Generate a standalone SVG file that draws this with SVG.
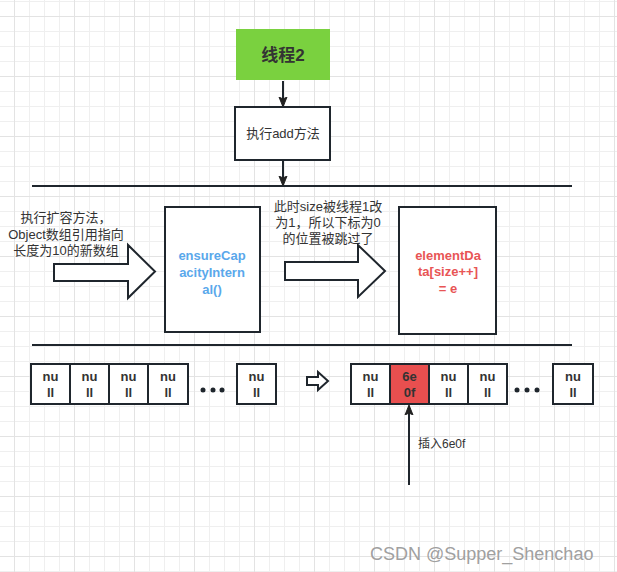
<svg xmlns="http://www.w3.org/2000/svg" width="617" height="572" viewBox="0 0 617 572">
<defs>
<pattern id="minor" x="14" y="1" width="15" height="15" patternUnits="userSpaceOnUse">
<path d="M0 0.5H15M0.5 0V15" fill="none" stroke="#efefef" stroke-width="1"/>
</pattern>
<pattern id="major" x="14" y="16" width="60" height="60" patternUnits="userSpaceOnUse">
<path d="M0 0.5H60M0.5 0V60" fill="none" stroke="#e3e3e3" stroke-width="1"/>
</pattern>
<marker id="ah" viewBox="0 0 10 10" refX="9" refY="5" markerWidth="10" markerHeight="10" markerUnits="userSpaceOnUse" orient="auto">
<path d="M0 1L10 5L0 9L2 5Z" fill="#222" stroke="#222"/>
</marker>
</defs>
<style>
.box{fill:#fff;stroke:#1f262d;stroke-width:2}
.cell{fill:#fff;stroke:#1f262d;stroke-width:2}
.t{font-family:"Liberation Sans","Noto Sans CJK SC",sans-serif;font-size:13px;fill:#333;text-anchor:middle}
.b{font-weight:bold}
.ln{stroke:#1f262d;stroke-width:2;fill:none}
.harrow{fill:#fff;stroke:#1f262d;stroke-width:2;stroke-linejoin:miter}
</style>
<rect width="617" height="572" fill="#fff"/>
<rect width="617" height="572" fill="url(#minor)"/>
<rect width="617" height="572" fill="url(#major)"/>

<g id="connectors">
<line class="ln" x1="283" y1="81" x2="283" y2="106" marker-end="url(#ah)"/>
<line class="ln" x1="283" y1="161" x2="283" y2="185" marker-end="url(#ah)"/>
<line class="ln" x1="409" y1="485" x2="409" y2="406" marker-end="url(#ah)"/>
</g>

<g id="separators">
<line class="ln" x1="32" y1="186" x2="572" y2="186"/>
<line class="ln" x1="32" y1="345" x2="572" y2="345"/>
</g>

<g id="thread2">
<rect x="236" y="29" width="94" height="51" fill="#7ad13f"/>
<text class="t b" x="283" y="61" style="font-size:17px">线程2</text>
</g>

<g id="addMethod">
<rect class="box" x="235" y="107" width="95" height="53"/>
<text class="t" x="283" y="138">执行add方法</text>
</g>

<g id="leftNote">
<text class="t" x="66" y="222">执行扩容方法，</text>
<text class="t" x="66" y="239">Object数组引用指向</text>
<text class="t" x="66" y="255">长度为10的新数组</text>
</g>

<g id="arrowLeft">
<path class="harrow" d="M54 264H128V245L155 271.5L128 298V281H54Z"/>
</g>

<g id="ensureCapacity">
<rect class="box" x="165" y="207" width="95" height="125"/>
<text class="t b" x="212" y="260" style="fill:#5aa8eb">ensureCap</text>
<text class="t b" x="212" y="277" style="fill:#5aa8eb">acityIntern</text>
<text class="t b" x="212" y="294" style="fill:#5aa8eb">al()</text>
</g>

<g id="midNote">
<text class="t" x="328" y="211">此时size被线程1改</text>
<text class="t" x="328" y="227">为1，所以下标为0</text>
<text class="t" x="328" y="243">的位置被跳过了</text>
</g>

<g id="arrowMid">
<path class="harrow" d="M285 262H358V245L385 271L358 297V280H285Z"/>
</g>

<g id="elementData">
<rect class="box" x="399" y="207" width="97" height="127"/>
<text class="t b" x="448" y="260" style="fill:#e85555">elementDa</text>
<text class="t b" x="448" y="276" style="fill:#e85555">ta[size++]</text>
<text class="t b" x="448" y="293" style="fill:#e85555">= e</text>
</g>

<g id="arrayBefore">
<rect class="cell" x="31" y="364" width="39" height="40"/>
<rect class="cell" x="70" y="364" width="39" height="40"/>
<rect class="cell" x="109" y="364" width="39" height="40"/>
<rect class="cell" x="148" y="364" width="40" height="40"/>
<rect class="cell" x="237" y="364" width="39" height="40"/>
<g class="t b">
<text x="50.5" y="381">nu</text><text x="50.5" y="397">ll</text>
<text x="89.5" y="381">nu</text><text x="89.5" y="397">ll</text>
<text x="128.5" y="381">nu</text><text x="128.5" y="397">ll</text>
<text x="168" y="381">nu</text><text x="168" y="397">ll</text>
<text x="256.5" y="381">nu</text><text x="256.5" y="397">ll</text>
</g>
<circle cx="203" cy="390" r="2.5" fill="#1f262d"/>
<circle cx="213" cy="390" r="2.5" fill="#1f262d"/>
<circle cx="222" cy="390" r="2.5" fill="#1f262d"/>
</g>

<g id="arrowSmall">
<path class="harrow" d="M307 377H318V372L328 381L318 390V385H307Z"/>
</g>

<g id="arrayAfter">
<rect class="cell" x="351" y="364" width="39" height="40"/>
<rect class="cell" x="390" y="364" width="39" height="40" style="fill:#e84f4f"/>
<rect class="cell" x="429" y="364" width="39" height="40"/>
<rect class="cell" x="468" y="364" width="39" height="40"/>
<rect class="cell" x="553" y="364" width="40" height="40"/>
<g class="t b">
<text x="370.5" y="381">nu</text><text x="370.5" y="397">ll</text>
<text x="409.5" y="381">6e</text><text x="409.5" y="397">0f</text>
<text x="448.5" y="381">nu</text><text x="448.5" y="397">ll</text>
<text x="487.5" y="381">nu</text><text x="487.5" y="397">ll</text>
<text x="573" y="381">nu</text><text x="573" y="397">ll</text>
</g>
<circle cx="517" cy="390" r="2.5" fill="#1f262d"/>
<circle cx="527" cy="390" r="2.5" fill="#1f262d"/>
<circle cx="537" cy="390" r="2.5" fill="#1f262d"/>
</g>

<g id="insertLabel">
<text class="t" x="418" y="448" style="text-anchor:start;font-size:12px">插入6e0f</text>
</g>

<text x="370" y="560" style="font-family:'Liberation Sans','Noto Sans CJK SC',sans-serif;font-size:18px;fill:#a0a0a0">CSDN @Supper_Shenchao</text>
</svg>
